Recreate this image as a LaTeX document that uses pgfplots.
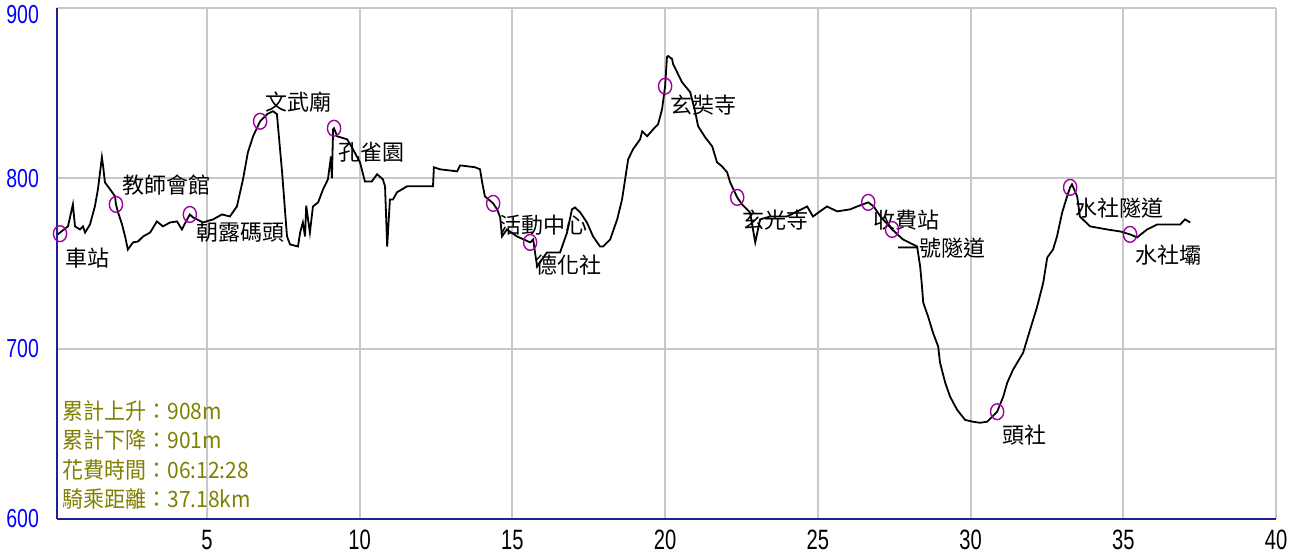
\documentclass[border=0pt]{standalone}
\usepackage{fontspec}
\setmainfont{Liberation Sans}
\newfontfamily\cjk{Noto Sans CJK TC}
\usepackage{graphicx}
\usepackage{pgfplots}
\pgfplotsset{compat=1.18}
\definecolor{navyax}{RGB}{32,32,150}
\definecolor{gridg}{RGB}{200,200,200}
\definecolor{wpt}{RGB}{160,0,160}
\definecolor{olivet}{RGB}{128,128,0}
\tikzset{lbl/.style={anchor=north west, inner sep=0pt, font=\fontsize{11}{11}\selectfont\cjk}}
\newcommand{\ylab}[1]{\scalebox{0.75}[1]{\fontsize{13}{13}\selectfont #1}}
\begin{document}
\begin{tikzpicture}
\useasboundingbox (-28.5pt,-19.5pt) rectangle (620.5pt,259.5pt);
\begin{axis}[
  at={(0,0)}, anchor=south west,
  scale only axis, width=609.5pt, height=255.5pt,
  xmin=0.09, xmax=40, ymin=600, ymax=900,
  xtick={5,10,...,40}, ytick={600,700,800,900},
  axis x line*=bottom, axis y line*=left,
  axis line style={navyax, line width=1.2pt, -},
  major tick length=0pt,
  grid=major, grid style={gridg, line width=1pt},
  /pgf/number format/assume math mode=true,
  xticklabel={\scalebox{0.72}[1]{\fontsize{14}{14}\selectfont\pgfmathprintnumber{\tick}}},
  yticklabel={\ifnum\ticknum=3\relax\raisebox{0pt}[\dimexpr\height+7pt\relax]{\ylab{\pgfmathprintnumber{\tick}}}\else\ylab{\pgfmathprintnumber{\tick}}\fi},
  x tick label style={black, yshift=-2pt},
  y tick label style={blue, xshift=-5.5pt},
  clip=false,
]
\addplot[black, line width=0.9pt] coordinates {
(0.12,767.1)(0.19,768.2)(0.45,771.8)(0.61,784.7)(0.68,771.8)(0.84,770.0)(0.94,771.8)(1.01,768.2)
(1.17,772.9)(1.33,783.5)(1.43,793.5)(1.56,812.4)(1.60,807.1)(1.66,797.6)(1.83,793.5)(1.99,789.4)
(2.02,784.7)(2.09,780.0)(2.22,772.9)(2.32,765.9)(2.41,758.2)(2.58,762.4)(2.74,762.9)(2.91,765.9)
(3.14,768.2)(3.36,774.7)(3.56,771.8)(3.79,774.1)(4.02,774.7)(4.18,770.0)(4.35,775.9)(4.44,778.8)
(4.54,777.1)(4.87,774.1)(5.20,775.9)(5.49,778.8)(5.75,777.6)(5.98,783.5)(6.18,799.4)(6.34,815.3)
(6.51,824.7)(6.74,833.5)(6.97,837.7)(7.16,839.4)(7.29,837.7)(7.46,803.5)(7.62,765.9)(7.72,761.2)
(7.98,760.0)(8.05,768.2)(8.14,774.1)(8.21,765.9)(8.25,784.0)(8.31,775.9)(8.37,768.2)(8.47,783.5)
(8.64,785.9)(8.80,793.5)(8.96,799.4)(9.06,812.9)(9.09,800.0)(9.13,828.8)(9.16,829.4)(9.26,824.7)
(9.59,822.9)(9.78,817.1)(10.01,809.4)(10.17,798.2)(10.40,798.2)(10.57,802.4)(10.76,799.4)(10.83,795.3)
(10.90,760.0)(10.99,787.6)(11.09,787.6)(11.22,791.8)(11.55,795.3)(12.40,795.3)(12.43,806.5)(12.63,805.3)
(13.19,804.1)(13.29,807.6)(13.52,807.1)(13.78,806.5)(13.94,805.3)(14.01,797.6)(14.10,789.4)(14.37,785.3)
(14.50,781.8)(14.60,777.1)(14.66,765.9)(14.82,770.0)(15.15,765.9)(15.58,762.4)(15.68,764.1)(15.74,756.5)
(15.81,748.2)(15.97,752.4)(16.13,756.5)(16.33,756.5)(16.56,756.5)(16.79,768.2)(16.95,781.8)(17.05,782.9)
(17.22,780.0)(17.44,774.1)(17.64,765.9)(17.87,760.0)(17.97,760.0)(18.20,764.1)(18.43,775.9)(18.59,787.6)
(18.69,799.4)(18.79,811.2)(18.95,817.1)(19.18,822.9)(19.25,827.6)(19.41,824.7)(19.61,828.8)(19.77,831.8)
(19.90,840.6)(20.00,854.1)(20.06,871.2)(20.10,871.8)(20.23,870.0)(20.26,867.1)(20.39,862.4)(20.55,856.5)
(20.82,850.6)(20.98,839.4)(21.08,830.6)(21.31,824.1)(21.54,818.8)(21.70,809.4)(21.86,807.1)(22.03,803.5)
(22.13,797.6)(22.36,788.8)(22.52,784.7)(22.68,781.8)(22.78,780.0)(22.95,762.4)(23.11,775.9)(23.44,777.6)
(23.99,777.6)(24.65,783.5)(24.84,777.6)(25.07,780.6)(25.30,783.5)(25.63,780.6)(26.06,781.8)(26.29,783.5)
(26.65,785.9)(26.83,783.5)(27.05,777.6)(27.43,770.0)(27.79,764.1)(28.25,760.0)(28.35,748.2)(28.41,736.5)
(28.45,727.1)(28.61,718.8)(28.77,709.4)(28.94,701.2)(29.00,691.8)(29.17,680.0)(29.33,671.8)(29.56,664.1)
(29.82,658.2)(30.08,657.1)(30.31,656.5)(30.54,657.1)(30.87,663.0)(31.07,671.8)(31.20,680.0)(31.39,687.6)
(31.72,697.6)(31.95,711.2)(32.18,724.7)(32.38,738.8)(32.51,753.5)(32.70,758.2)(32.83,765.9)(33.00,780.0)
(33.16,789.4)(33.26,794.7)(33.32,796.5)(33.49,789.4)(33.58,777.6)(33.91,771.8)(34.47,770.0)(34.90,768.8)
(35.22,767.1)(35.45,765.3)(35.78,770.0)(36.11,772.9)(36.53,772.9)(36.86,772.9)(37.02,775.9)(37.19,774.1)
};
\addplot[only marks, mark=o, mark size=3.3pt, mark options={wpt, line width=0.7pt, yscale=1.2}] coordinates {
(0.19,767.5)(2.02,784.7)(4.44,778.8)(6.74,833.5)(9.16,829.4)(14.37,785.3)(15.58,762.4)
(20.00,854.1)(22.36,788.8)(26.65,785.9)(27.43,770.0)(30.87,663.0)(33.26,794.7)(35.22,767.1)
};
\node[lbl, xshift=2.5pt, yshift=-7pt] at (axis cs:0.19,767.5) {車站};
\node[lbl, xshift=3pt, yshift=15pt] at (axis cs:2.02,784.7) {教師會館};
\node[lbl, xshift=3pt, yshift=-3.5pt] at (axis cs:4.44,778.8) {朝露碼頭};
\node[lbl, xshift=2.5pt, yshift=15pt] at (axis cs:6.74,833.5) {文武廟};
\node[lbl, xshift=2pt, yshift=-6.5pt] at (axis cs:9.16,829.4) {孔雀園};
\node[lbl, xshift=3pt, yshift=-5.5pt] at (axis cs:14.37,785.3) {活動中心};
\node[lbl, xshift=2.5pt, yshift=-6pt] at (axis cs:15.58,762.4) {德化社};
\node[lbl, xshift=2.5pt, yshift=-4pt] at (axis cs:20.00,854.1) {玄奘寺};
\node[lbl, xshift=2.5pt, yshift=-6pt] at (axis cs:22.36,788.8) {玄光寺};
\node[lbl, xshift=2.5pt, yshift=-3.5pt] at (axis cs:26.65,785.9) {收費站};
\node[lbl, xshift=2.5pt, yshift=-4pt] at (axis cs:27.43,770.0) {一號隧道};
\node[lbl, xshift=2.5pt, yshift=-6.5pt] at (axis cs:30.87,663.0) {頭社};
\node[lbl, xshift=2.5pt, yshift=-5pt] at (axis cs:33.26,794.7) {水社隧道};
\node[lbl, xshift=2.5pt, yshift=-5pt] at (axis cs:35.22,767.1) {水社壩};
\node[anchor=north west, inner sep=0pt, olivet, xshift=2.5pt, yshift=60.5pt] at (rel axis cs:0,0)
  {\scalebox{1}[1.07]{\fontsize{10.5}{13.8}\selectfont\cjk
   \begin{tabular}{@{}l@{}}累計上升：908m\\累計下降：901m\\花費時間：06:12:28\\騎乘距離：37.18km\end{tabular}}};
\end{axis}
\end{tikzpicture}
\end{document}
